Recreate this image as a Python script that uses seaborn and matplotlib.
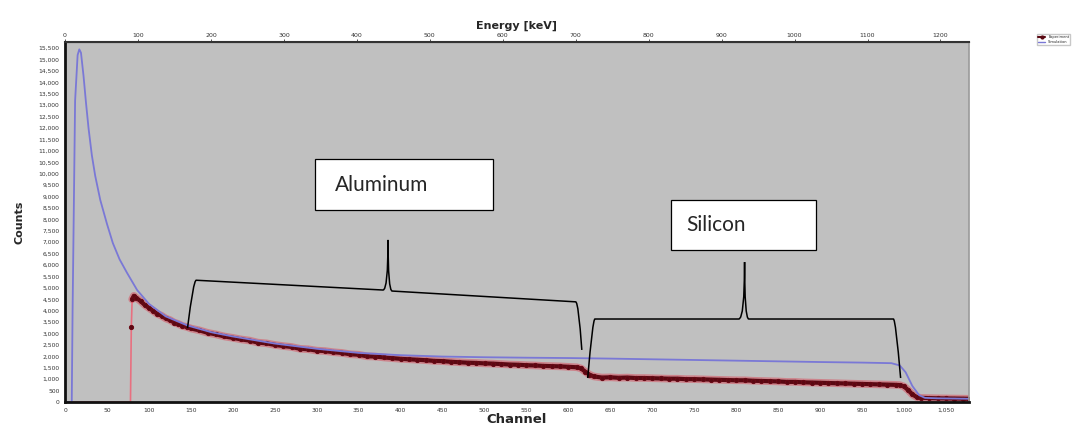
import numpy as np
import pandas as pd
import matplotlib
matplotlib.use("Agg")
import matplotlib.pyplot as plt
import seaborn as sns
from matplotlib.patches import Rectangle, PathPatch
from matplotlib.path import Path
from matplotlib.ticker import FuncFormatter

# ---------------- data ----------------
exp_channel = [0, 78, 79, 80, 82, 85, 90, 95, 100, 105, 110, 115, 120, 125, 130, 135, 140, 145, 150,
               160, 170, 180, 190, 200, 210, 220, 230, 240, 250, 260, 270, 280, 290, 300,
               310, 320, 330, 340, 350, 360, 370, 380, 390, 400, 410, 420, 430, 440, 450,
               460, 470, 480, 490, 500, 510, 520, 530, 540, 550, 560, 570, 580, 590, 600,
               610, 615, 620, 625, 630, 640, 650, 660, 670, 680, 690, 700, 710, 720, 730,
               740, 750, 760, 770, 780, 790, 800, 810, 820, 830, 840, 850, 860, 870, 880,
               890, 900, 910, 920, 930, 940, 950, 960, 970, 980, 990, 995, 1000, 1005, 1010,
               1015, 1020, 1030, 1040, 1050, 1060, 1070, 1077]
exp_counts = [0, 0, 3300, 4500, 4650, 4560, 4420, 4250, 4120, 3990, 3860, 3780, 3660, 3590, 3480, 3420, 3330, 3290, 3220,
              3140, 3030, 2960, 2870, 2810, 2740, 2690, 2600, 2570, 2500, 2450, 2410, 2330, 2310, 2250,
              2230, 2180, 2150, 2090, 2070, 2000, 1990, 1950, 1920, 1890, 1870, 1850, 1830, 1800, 1790,
              1760, 1740, 1720, 1710, 1690, 1680, 1660, 1640, 1630, 1610, 1600, 1580, 1570, 1560, 1540,
              1520, 1470, 1330, 1200, 1120, 1070, 1080, 1060, 1070, 1050, 1050, 1040, 1030, 1020, 1020,
              1000, 1000, 990, 980, 970, 960, 950, 950, 930, 920, 910, 900, 880, 880, 860,
              850, 840, 830, 820, 810, 800, 790, 780, 770, 760, 750, 740, 680, 520, 330,
              220, 180, 170, 160, 155, 150, 145, 140]

sim_channel = [0, 8, 9, 12, 15, 17, 19, 22, 25, 28, 32, 36, 42, 50, 57, 65, 74, 86, 100, 120, 146,
               175, 200, 250, 300, 350, 400, 450, 500, 550, 600, 650, 700, 750, 800, 850, 900,
               950, 985, 995, 1002, 1010, 1018, 1025, 1040, 1060, 1077]
sim_counts = [0, 0, 4000, 13200, 15200, 15450, 15300, 14300, 13100, 12000, 10800, 9900, 8850, 7800, 6960, 6250, 5650, 4900, 4300, 3750, 3350,
              3050, 2870, 2560, 2330, 2150, 2050, 1990, 1960, 1940, 1925, 1900, 1870, 1840, 1810, 1780, 1750,
              1725, 1700, 1600, 1300, 700, 300, 180, 160, 150, 140]

series_names = ["Experiment", "Simulation"]
y_ticks = list(range(0, 16000, 500))
x_ticks = list(range(0, 1051, 50))
energy_ticks = list(range(0, 1201, 100))
kev_per_channel = 1.15

# annotation shapes in data coordinates (channel, counts)
al_brace_ch = [146, 153, 379, 385, 390, 612, 616]
al_brace_ct = [3240, 5340, 4905, 7100, 4860, 4380, 2280]
si_brace_ch = [623, 629, 803, 810, 815, 990, 996]
si_brace_ct = [1050, 3635, 3635, 6130, 3635, 3635, 1050]
al_box = (298, 8400, 212, 2250)   # x, y, width, height
si_box = (722, 6660, 173, 2190)

# ---------------- figure ----------------
sns.set_style("white")
plt.rcParams["font.family"] = ["DejaVu Sans"]

fig = plt.figure(figsize=(10.75, 4.29), dpi=100)
ax = fig.add_axes([0.0605, 0.063, 0.8405, 0.839])
ax.set_facecolor("#c0c0c0")

df_exp = pd.DataFrame({"Channel": exp_channel, "Counts": exp_counts})
df_exp_on = df_exp.iloc[2:]
df_sim = pd.DataFrame({"Channel": sim_channel, "Counts": sim_counts})

# experimental: thin pink lead-in, red glow + dark core with markers
sns.lineplot(data=df_exp.iloc[:4], x="Channel", y="Counts", ax=ax, color="#e87080",
             linewidth=1.2, estimator=None, sort=False, legend=False)
sns.lineplot(data=df_exp.iloc[3:], x="Channel", y="Counts", ax=ax, color="#d84858",
             linewidth=5.5, alpha=0.5, estimator=None, sort=False, legend=False)
sns.lineplot(data=df_exp.iloc[3:], x="Channel", y="Counts", ax=ax, color="#5a0812",
             linewidth=3.0, estimator=None, sort=False, legend=False)
sns.lineplot(data=df_exp_on, x="Channel", y="Counts", ax=ax, color="#5a0812",
             linewidth=0, estimator=None, sort=False, marker="o", markersize=3,
             markeredgecolor="#6a0a16", legend=False)
sns.lineplot(data=df_sim, x="Channel", y="Counts", ax=ax, color="#7a78d6",
             linewidth=1.3, estimator=None, sort=False, legend=False)

ax.set_xlim(0, 1077)
ax.set_ylim(0, 15770)
ax.set_yticks(y_ticks)
ax.set_xticks(x_ticks)
ax.yaxis.set_major_formatter(FuncFormatter(lambda v, p: f"{int(v):,}"))
ax.xaxis.set_major_formatter(FuncFormatter(lambda v, p: f"{int(v):,}"))
ax.tick_params(axis="both", labelsize=4.3, colors="#333333", length=2, width=0.6, pad=2)
ax.set_xlabel("Channel", fontsize=9.5, fontweight="bold", labelpad=0)
ax.set_ylabel("Counts", fontsize=8, fontweight="bold", labelpad=10)

for side in ["left", "bottom"]:
    ax.spines[side].set_color("#111111")
    ax.spines[side].set_linewidth(2)
ax.spines["top"].set_color("#333333")
ax.spines["top"].set_linewidth(1.5)
ax.spines["right"].set_color("#9a9a9a")
ax.spines["right"].set_linewidth(1.2)

sec = ax.secondary_xaxis("top", functions=(lambda c: np.asarray(c) * kev_per_channel,
                                           lambda e: np.asarray(e) / kev_per_channel))
sec.set_xticks(energy_ticks)
sec.tick_params(labelsize=4.5, colors="#333333", length=2, width=0.6, pad=1)
sec.set_xlabel("Energy [keV]", fontsize=8, fontweight="bold", labelpad=3)


def brace_path(xs, ys):
    p = [np.array([x, y], dtype=float) for x, y in zip(xs, ys)]
    q1 = p[1] + 0.015 * (p[2] - p[1])
    q5 = p[5] - 0.015 * (p[5] - p[4])
    verts = [p[0], p[1], q1, p[2], (p[3][0], p[2][1]), p[3], (p[3][0], p[4][1]), p[4],
             q5, p[5], p[6]]
    codes = [Path.MOVETO, Path.CURVE3, Path.CURVE3, Path.LINETO, Path.CURVE3, Path.CURVE3,
             Path.CURVE3, Path.CURVE3, Path.LINETO, Path.CURVE3, Path.CURVE3]
    return Path(verts, codes)


for bx_, by_ in [(al_brace_ch, al_brace_ct), (si_brace_ch, si_brace_ct)]:
    ax.add_patch(PathPatch(brace_path(bx_, by_), facecolor="none", edgecolor="black",
                           linewidth=1.1, zorder=4))

# text boxes
for (bx, by, bw, bh), label in [(al_box, "Aluminum"), (si_box, "Silicon")]:
    ax.add_patch(Rectangle((bx, by), bw, bh, facecolor="white", edgecolor="black",
                           linewidth=0.9, zorder=5))
    ax.text(bx + bw * 0.11, by + bh * 0.5, label, fontsize=15, family="Lato",
            va="center", ha="left", zorder=6)

# legend outside (tiny)
h_exp = plt.Line2D([], [], color="#5a0812", linewidth=1.5, marker="o", markersize=2,
                   markerfacecolor="#5a0812")
h_sim = plt.Line2D([], [], color="#7a78d6", linewidth=1)
fig.legend([h_exp, h_sim], series_names, loc="upper left", bbox_to_anchor=(0.963, 0.925),
           fontsize=2.6, frameon=True, handlelength=2, borderpad=0.3,
           labelspacing=0.2, fancybox=False, edgecolor="#bbbbbb")

fig.savefig("out.png", dpi=100)
